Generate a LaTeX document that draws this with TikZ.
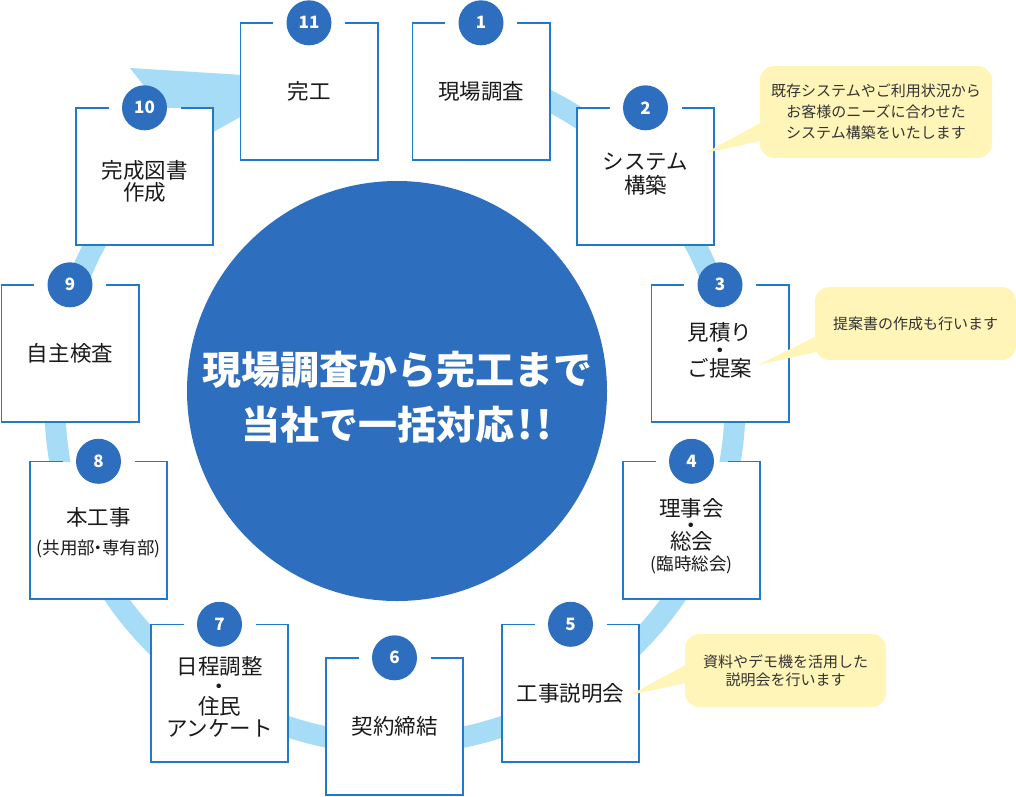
\documentclass[tikz,border=0pt]{standalone}
\usepackage{fontspec}
\newfontfamily\cjk{Noto Sans CJK JP}
\usetikzlibrary{calc}
\definecolor{ringblue}{HTML}{A6DCF6}
\definecolor{darkblue}{HTML}{2D6EBF}
\definecolor{borderblue}{HTML}{2179C9}
\definecolor{callyellow}{HTML}{FFF5B9}
\definecolor{boxtext}{HTML}{1A1A1A}
\definecolor{calltext}{HTML}{333333}
\tikzset{
  stepbox/.style={rectangle, fill=white, minimum width=137pt, minimum height=137pt, inner sep=0pt},
  steptext/.style={font=\cjk\fontsize{21.5}{25}\selectfont, text=boxtext, align=center, inner sep=0pt},
  badge/.style={circle, fill=darkblue, minimum size=45pt, inner sep=0pt, text=white, font=\cjk\bfseries\fontsize{17}{17}\selectfont},
  callout/.style={rectangle, rounded corners=14pt, fill=callyellow, inner sep=0pt, text=calltext, align=center, font=\cjk\fontsize{15}{21}\selectfont},
  boxborder/.style={draw=borderblue, line width=1.6pt},
  ringline/.style={draw=ringblue, line width=21pt},
}
\newcommand\smalltxt[1]{{\fontsize{17.5}{20}\selectfont #1}}
\begin{document}
\begin{tikzpicture}[x=1pt,y=-1pt]
\useasboundingbox (0,0) rectangle (1016,796);
% ring with arrow head
\coordinate (rc) at (395,404);
\draw[ringline] (rc) ++(-75:340) arc[start angle=-75, end angle=233, radius=340];
\fill[ringblue] (130,68) -- (190,145) -- (308,79) -- cycle;
% central circle
\node[circle, fill=darkblue, minimum size=420pt, inner sep=0pt] (hub) at (397,391) {};
\node[font=\cjk\bfseries\fontsize{39}{55}\selectfont, text=white, align=center, inner sep=0pt] (title) at (397,397) {現場調査から完工まで\\当社で一括対応\kern3pt!\kern4pt!};
% boxes
\node[stepbox] (b11) at (309,91.5) {};
\node[stepbox] (b1) at (481,91.5) {};
\node[stepbox] (b2) at (645.5,176.5) {};
\node[stepbox] (b3) at (720,353.5) {};
\node[stepbox] (b4) at (691.5,530) {};
\node[stepbox] (b5) at (570.5,693) {};
\node[stepbox] (b6) at (394.5,726.5) {};
\node[stepbox] (b7) at (219.5,693) {};
\node[stepbox] (b8) at (98.5,530) {};
\node[stepbox] (b9) at (70,353.5) {};
\node[stepbox] (b10) at (144.5,176.5) {};
\foreach \b in {b1,b2,b3,b4,b5,b6,b7,b8,b9,b10,b11}{
  \draw[boxborder] ([xshift=36pt]\b.north) -- (\b.north east) -- (\b.south east) -- (\b.south west) -- (\b.north west) -- ([xshift=-36pt]\b.north);
}
% badges
\node[badge] (n1) at (b1.north) {1};
\node[badge] (n2) at (b2.north) {2};
\node[badge] (n3) at (b3.north) {3};
\node[badge] (n4) at (b4.north) {4};
\node[badge] (n5) at (b5.north) {5};
\node[badge] (n6) at (b6.north) {6};
\node[badge] (n7) at (b7.north) {7};
\node[badge] (n8) at (b8.north) {8};
\node[badge] (n9) at (b9.north) {9};
\node[badge] (n10) at (b10.north) {10};
\node[badge] (n11) at (b11.north) {11};
% box texts
\node[steptext] (t11) at (b11.center) {完工};
\node[steptext] (t1) at (b1.center) {現場調査};
\node[steptext] (t2) at ([yshift=2.5pt]b2.center) {システム\\[-1pt]構築};
\node[steptext] (t3) at ([yshift=3pt]b3.center) {見積り\\[-7pt]・\\[-7pt]ご提案};
\node[steptext] (t4) at ([yshift=-6pt]b4.center) {理事会\\[-8pt]・\\[-9pt]総会\\[-4pt]\smalltxt{(臨時総会)}};
\node[steptext] (t5) at (b5.center) {工事説明会};
\node[steptext] (t6) at (b6.center) {契約締結};
\node[steptext] (t7) at ([yshift=-4pt]b7.center) {日程調整\\[-5pt]・\\[-5pt]住民\\[-3pt]アンケート};
\node[steptext] (t8) at ([yshift=-3pt]b8.center) {本工事\\[4pt]\smalltxt{(共用部\kern-0.3em・\kern-0.3em専有部)}};
\node[steptext] (t9) at (b9.center) {自主検査};
\node[steptext] (t10) at ([yshift=-4.5pt]b10.center) {完成図書\\[-3pt]作成};
% callouts
\node[callout, minimum width=232pt, minimum height=92pt] (c1) at (876,112) {既存システムやご利用状況から\\お客様のニーズに合わせた\\システム構築をいたします};
\node[callout, minimum width=201pt, minimum height=73pt] (c2) at (915.5,323.5) {提案書の作成も行います};
\node[callout, minimum width=201pt, minimum height=73pt, font=\cjk\fontsize{15}{17.5}\selectfont] (c3) at (785.5,670.5) {資料やデモ機を活用した\\説明会を行います};
\coordinate (p1) at (705,153);
\coordinate (p2) at (758,365);
\coordinate (p3) at (630,695);
\fill[callyellow] ([xshift=6pt,yshift=-8pt]c1.west) -- (p1) -- ([xshift=6pt,yshift=-28pt]c1.west) -- cycle;
\fill[callyellow] ([xshift=8pt,yshift=-9.5pt]c2.west) -- (p2) -- ([xshift=8pt,yshift=-27pt]c2.west) -- cycle;
\fill[callyellow] ([xshift=6pt,yshift=8.5pt]c3.west) -- (p3) -- ([xshift=6pt,yshift=-11.5pt]c3.west) -- cycle;
\end{tikzpicture}
\end{document}
